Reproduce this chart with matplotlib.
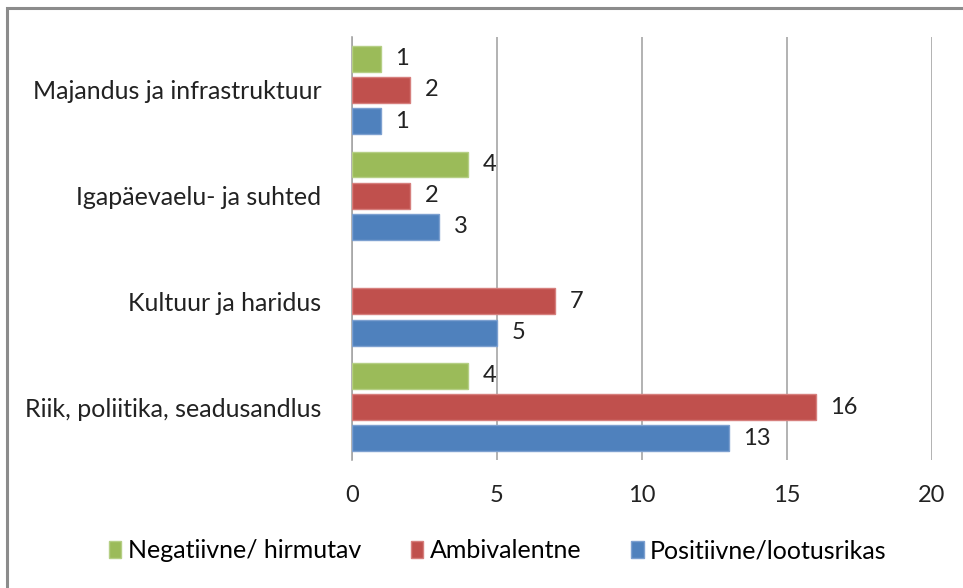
import matplotlib.pyplot as plt
from matplotlib.patches import Rectangle
import numpy as np

plt.rcParams['font.family'] = ['Lato', 'DejaVu Sans']

# categories bottom -> top
categories = ['Riik, poliitika, seadusandlus', 'Kultuur ja haridus',
              'Igapäevaelu- ja suhted', 'Majandus ja infrastruktuur']
positiivne = [13, 5, 3, 1]
ambivalentne = [16, 7, 2, 2]
negatiivne = [4, 0, 4, 1]
series_names = ['Positiivne/lootusrikas', 'Ambivalentne', 'Negatiivne/ hirmutav']
colors = ['#4f81bd', '#c0504d', '#9bbb59']
edges = ['#7da0d0', '#d67f7d', '#b5cf85']

fig = plt.figure(figsize=(9.63, 5.88), dpi=100)
ax = fig.add_axes([0.3655, 0.2177, 0.6023, 0.7193])

y = np.arange(len(categories))
offsets = [-0.295, 0, 0.295]
handles = []
for vals, name, c, ec, off in zip([positiivne, ambivalentne, negatiivne],
                                   series_names, colors, edges, offsets):
    lw = [1 if v > 0 else 0 for v in vals]
    bars = ax.barh(y + off, vals, height=0.245, color=c, edgecolor=ec,
                   linewidth=lw, label=name, zorder=3)
    handles.append(bars)
    for yy, v in zip(y + off, vals):
        if v > 0:
            ax.text(v + 0.5, yy, str(v), va='center', ha='left',
                    fontsize=17, color='#222222')

ax.set_xlim(0, 20)
ax.set_ylim(-0.5, 3.5)
ax.set_xticks([0, 5, 10, 15, 20])
ax.set_yticks(y)
ax.set_yticklabels(categories, fontsize=18, color='#222222')
ax.tick_params(axis='x', labelsize=17, colors='#222222', length=0, pad=18)
ax.tick_params(axis='y', length=0, pad=22)
ax.grid(axis='x', color='#a6a6a6', linewidth=1.2, zorder=0)
for s in ['top', 'right', 'bottom']:
    ax.spines[s].set_visible(False)
ax.spines['left'].set_color('#a6a6a6')
ax.spines['left'].set_linewidth(1.2)

leg = fig.legend(handles=handles[::-1], labels=series_names[::-1],
                 loc='center', bbox_to_anchor=(0.517, 0.063), ncol=3,
                 frameon=False, fontsize=18, handlelength=0.5,
                 handleheight=0.65, columnspacing=2.0, handletextpad=0.25)

# outer chart frame
fig.patches.append(Rectangle((7 / 963, -0.1), 1.2, (588 - 8) / 588 + 0.1,
                             transform=fig.transFigure, fill=False,
                             edgecolor='#8c8c8c', linewidth=2.2))

fig.savefig('out.png', dpi=100)
